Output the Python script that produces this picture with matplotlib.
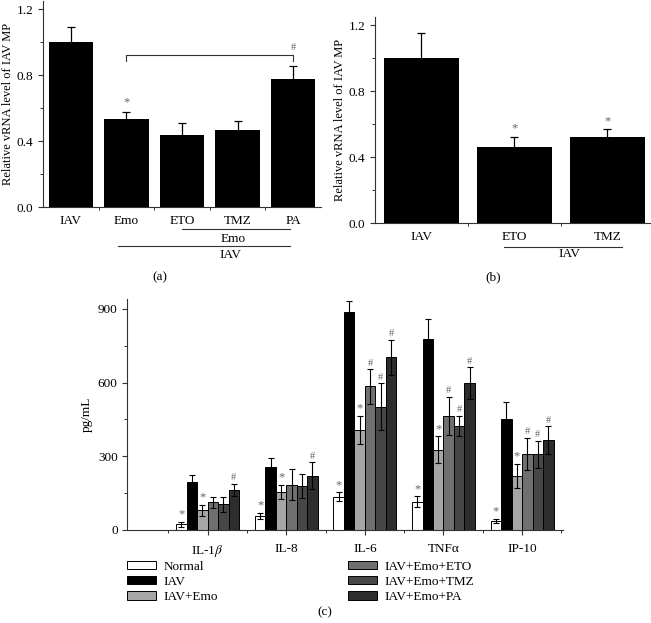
import matplotlib.pyplot as plt
import numpy as np
from matplotlib.ticker import MultipleLocator, FixedLocator

plt.rcParams["font.family"] = ["Liberation Serif", "DejaVu Serif"]
plt.rcParams["mathtext.fontset"] = "stix"

# panel (a)
a_labels = ["IAV", "Emo", "ETO", "TMZ", "PA"]
a_means = [1.0, 0.535, 0.44, 0.47, 0.775]
a_errs = [0.095, 0.043, 0.07, 0.05, 0.083]

# panel (b)
b_labels = ["IAV", "ETO", "TMZ"]
b_means = [1.0, 0.46, 0.52]
b_errs = [0.15, 0.063, 0.048]

# panel (c)
c_cytokines = ["IL-1$\\beta$", "IL-8", "IL-6", "TNFα", "IP-10"]
c_groups = ["Normal", "IAV", "IAV+Emo", "IAV+Emo+ETO", "IAV+Emo+TMZ", "IAV+Emo+PA"]
c_normal = [23, 57, 136, 115, 38]
c_iav = [196, 255, 886, 776, 452]
c_emo = [80, 155, 407, 326, 220]
c_eto = [113, 185, 584, 465, 309]
c_tmz = [105, 180, 502, 423, 309]
c_pa = [163, 221, 702, 597, 366]
c_normal_err = [9, 12, 17, 22, 8]
c_iav_err = [26, 37, 45, 83, 68]
c_emo_err = [23, 30, 58, 55, 48]
c_eto_err = [22, 62, 70, 78, 66]
c_tmz_err = [30, 48, 95, 42, 55]
c_pa_err = [26, 55, 72, 66, 57]
c_normal_mark = ["*", "*", "*", "*", "*"]
c_iav_mark = ["", "", "", "", ""]
c_emo_mark = ["*", "*", "*", "*", "*"]
c_eto_mark = ["", "", "#", "#", "#"]
c_tmz_mark = ["", "", "#", "#", "#"]
c_pa_mark = ["#", "#", "#", "#", "#"]
c_colors = ["white", "black", "#a6a6a6", "#707070", "#474747", "#2d2d2d"]

MARK_COLOR = "#666666"
FS = 9.5


def style_axes(ax):
    ax.spines["top"].set_visible(False)
    ax.spines["right"].set_visible(False)
    for s in ("left", "bottom"):
        ax.spines[s].set_color("#333333")
        ax.spines[s].set_linewidth(0.8)
    ax.tick_params(axis="both", which="major", labelsize=FS, length=3.5, width=0.8, color="#333333")
    ax.tick_params(axis="both", which="minor", length=2, width=0.7, color="#333333")


def mark(ax, x, y, s, size=9):
    ax.annotate(s, (x, y), xytext=(0, 1), textcoords="offset points",
                ha="center", va="bottom", fontsize=size, color=MARK_COLOR)


fig = plt.figure(figsize=(6.51, 6.23), dpi=100)

# ---- (a)
ax_a = fig.add_axes([0.066, 0.6677, 0.427, 0.3307])
xa = np.arange(len(a_labels))
ax_a.bar(xa, a_means, width=0.8, color="black")
ax_a.errorbar(xa, a_means, yerr=a_errs, fmt="none", ecolor="black", elinewidth=0.9,
              capsize=3, capthick=0.9)
ax_a.set_xlim(-0.5, 4.5)
ax_a.set_ylim(0, 1.25)
ax_a.yaxis.set_major_locator(FixedLocator([0, 0.4, 0.8, 1.2]))
ax_a.yaxis.set_minor_locator(MultipleLocator(0.2))
ax_a.set_yticklabels(["0.0", "0.4", "0.8", "1.2"])
ax_a.set_xticks(xa)
ax_a.set_xticklabels(a_labels)
ax_a.xaxis.set_minor_locator(FixedLocator(xa[:-1] + 0.5))
style_axes(ax_a)
ax_a.tick_params(axis="x", which="major", length=0, pad=6)
ax_a.set_ylabel("Relative vRNA level of IAV MP", fontsize=9, labelpad=2)
mark(ax_a, 1, a_means[1] + a_errs[1] + 0.015, "*")
# bracket Emo - PA
ax_a.plot([1, 1, 4, 4], [0.887, 0.92, 0.92, 0.887], color="#333333", lw=0.8)
mark(ax_a, 4, 0.93, "#", size=7.5)
tr_a = ax_a.get_xaxis_transform()
ax_a.plot([2, 3.95], [-0.107, -0.107], color="#333333", lw=0.8, transform=tr_a, clip_on=False)
ax_a.text(2.92, -0.155, "Emo", transform=tr_a, ha="center", va="center", fontsize=FS)
ax_a.plot([0.85, 3.95], [-0.189, -0.189], color="#333333", lw=0.8, transform=tr_a, clip_on=False)
ax_a.text(2.88, -0.233, "IAV", transform=tr_a, ha="center", va="center", fontsize=FS)

# ---- (b)
ax_b = fig.add_axes([0.576, 0.642, 0.4224, 0.331])
xb = np.arange(len(b_labels))
ax_b.bar(xb, b_means, width=0.81, color="black")
ax_b.errorbar(xb, b_means, yerr=b_errs, fmt="none", ecolor="black", elinewidth=0.9,
              capsize=3, capthick=0.9)
ax_b.set_xlim(-0.5, 2.46)
ax_b.set_ylim(0, 1.25)
ax_b.yaxis.set_major_locator(FixedLocator([0, 0.4, 0.8, 1.2]))
ax_b.yaxis.set_minor_locator(MultipleLocator(0.2))
ax_b.set_yticklabels(["0.0", "0.4", "0.8", "1.2"])
ax_b.set_xticks(xb)
ax_b.set_xticklabels(b_labels)
ax_b.xaxis.set_minor_locator(FixedLocator(xb[:-1] + 0.5))
style_axes(ax_b)
ax_b.tick_params(axis="x", which="major", length=0, pad=6)
ax_b.set_ylabel("Relative vRNA level of IAV MP", fontsize=9, labelpad=2)
for i in (1, 2):
    mark(ax_b, xb[i], b_means[i] + b_errs[i] + 0.005, "*")
tr_b = ax_b.get_xaxis_transform()
ax_b.plot([0.89, 2.16], [-0.117, -0.117], color="#333333", lw=0.8, transform=tr_b, clip_on=False)
ax_b.text(1.59, -0.15, "IAV", transform=tr_b, ha="center", va="center", fontsize=FS)

# ---- (c)
ax_c = fig.add_axes([0.1958, 0.1493, 0.669, 0.3708])
xc = np.arange(len(c_cytokines))
w = 0.8 / 6
series = [
    (c_normal, c_normal_err, c_normal_mark),
    (c_iav, c_iav_err, c_iav_mark),
    (c_emo, c_emo_err, c_emo_mark),
    (c_eto, c_eto_err, c_eto_mark),
    (c_tmz, c_tmz_err, c_tmz_mark),
    (c_pa, c_pa_err, c_pa_mark),
]
handles = []
for k, (vals, errs, marks) in enumerate(series):
    pos = xc + (k - 2.5) * w
    h = ax_c.bar(pos, vals, width=w, color=c_colors[k], edgecolor="black", linewidth=0.7,
                 label=c_groups[k])
    handles.append(h)
    ax_c.errorbar(pos, vals, yerr=errs, fmt="none", ecolor="black", elinewidth=0.8,
                  capsize=2.2, capthick=0.8)
    for p, v, e, m in zip(pos, vals, errs, marks):
        if m:
            mark(ax_c, p, v + e, m, size=9 if m == "*" else 7.5)
ax_c.set_xlim(-1.02, 4.52)
ax_c.set_ylim(0, 940)
ax_c.yaxis.set_major_locator(MultipleLocator(300))
ax_c.yaxis.set_minor_locator(MultipleLocator(150))
ax_c.set_xticks(xc)
ax_c.set_xticklabels(c_cytokines)
ax_c.xaxis.set_minor_locator(FixedLocator(np.arange(-0.5, 4.6, 1.0)))
style_axes(ax_c)
ax_c.tick_params(axis="x", which="major", pad=6)
ax_c.set_ylabel("pg/mL", fontsize=FS, labelpad=4)

leg_kw = dict(loc="upper left", frameon=False, fontsize=FS, borderpad=0, borderaxespad=0,
              handlelength=2.2, handleheight=0.62, handletextpad=0.55, labelspacing=0.25)
fig.legend(handles[:3], c_groups[:3], bbox_to_anchor=(0.195, 0.1003), **leg_kw)
fig.legend(handles[3:], c_groups[3:], bbox_to_anchor=(0.535, 0.1003), **leg_kw)

fig.text(0.2458, 0.5554, "(a)", ha="center", va="center", fontsize=FS)
fig.text(0.757, 0.5554, "(b)", ha="center", va="center", fontsize=FS)
fig.text(0.4992, 0.0177, "(c)", ha="center", va="center", fontsize=FS)

fig.savefig("out.png", dpi=100)
